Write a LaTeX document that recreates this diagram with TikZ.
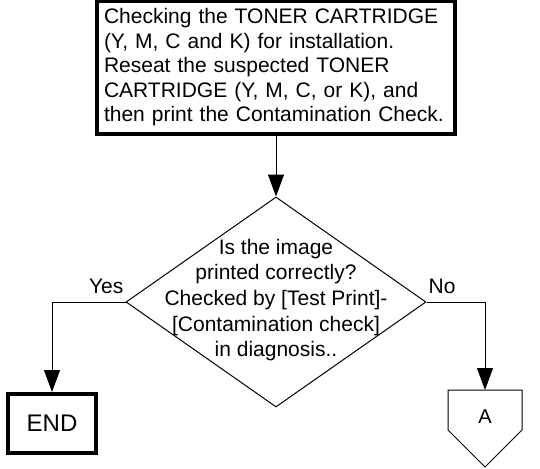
\documentclass[tikz,border=0pt]{standalone}
\usepackage{fontspec}
\setmainfont{Liberation Sans}
\usetikzlibrary{arrows.meta,positioning,calc,shapes.geometric}

\begin{document}
\begin{tikzpicture}[x=1pt,y=-1pt,
	thinline/.style={line width=1pt},
	arr/.style={thinline,-{Triangle[length=22pt,width=16pt]}},
	procbox/.style={draw,line width=4pt,align=left,inner xsep=7pt,text width=344pt,minimum height=132pt,font=\fontsize{21}{24.5}\selectfont},
	endbox/.style={draw,line width=4pt,minimum width=88pt,minimum height=59pt,font=\fontsize{24}{28}\selectfont},
	decision/.style={draw,thinline,diamond,minimum width=300pt,minimum height=210pt,inner sep=0pt},
	lbl/.style={font=\fontsize{21}{24}\selectfont,inner xsep=2pt,inner ysep=8pt}]
	\useasboundingbox (0,0) rectangle (540,468);
	
	% check step
	\node[procbox] (check) at (276,67.5) {Checking the TONER CARTRIDGE\\(Y, M, C and K) for installation.\\Reseat the suspected TONER\\CARTRIDGE (Y, M, C, or K), and\\then print the Contamination Check.};
	
	% decision
	\node[decision] (dec) at (276,302) {};
	\node[align=center,font=\fontsize{21}{25.7}\selectfont] (q) at (276,300) {Is the image\\printed correctly?\\Checked by [Test Print]-\\{}[Contamination check]\\in diagnosis..};
	
	% end box
	\node[endbox] (end) at (52,423.5) {END};
	
	% off-page connector A
	\coordinate (Atop) at (485,390);
	\node[font=\fontsize{20}{22}\selectfont] (A) at (485,417) {A};
	\draw[thinline] (448,390) -- (522,390) -- (522,430) -- (485,467) -- (448,430) -- cycle;
	
	% connectors
	\draw[arr] (check.south) -- (dec.north);
	\draw[arr] (dec.west) -| (end.north);
	\draw[arr] (dec.east) -| (Atop);
	
	% labels
	\node[lbl,above left] (yes) at (dec.west) {Yes};
	\node[lbl,above right] (no) at (dec.east) {No};
\end{tikzpicture}
\end{document}
